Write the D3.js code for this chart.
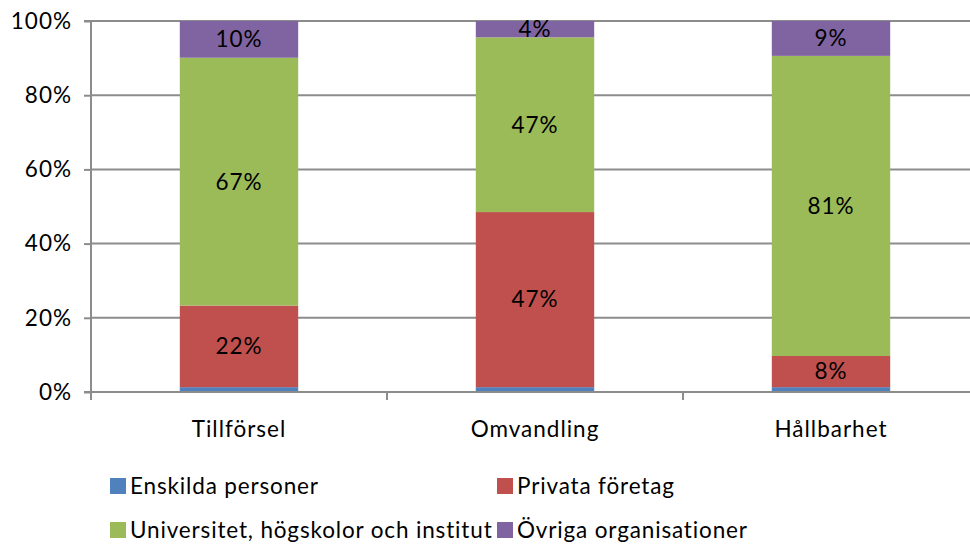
<!DOCTYPE html>
<html><head><meta charset="utf-8">
<script src="https://cdn.jsdelivr.net/npm/d3@7"></script>
<style>body{margin:0;background:#fff}svg{display:block}</style>
</head><body>
<svg id="c" width="970" height="544"></svg>
<script>
const categories = ["Tillförsel", "Omvandling", "Hållbarhet"];
const seriesNames = ["Enskilda personer", "Privata företag", "Universitet, högskolor och institut", "Övriga organisationer"];
const enskilda = [1.3, 1.3, 1.3];
const privata = [22.0, 47.2, 8.4];
const universitet = [66.8, 47.1, 80.9];
const ovriga = [9.9, 4.4, 9.4];
const colors = ["#4F81BD", "#C0504D", "#9BBB59", "#8064A2"];
const yTicks = [0, 20, 40, 60, 80, 100];
const labelShown = [false, true, true, true];

const svg = d3.select("#c");
const font = "Lato, 'Open Sans', sans-serif";
const fs = 22.5;
const ls = "1px";
const x0 = 91, x1 = 979, yTop = 21, yBot = 392;
const x = d3.scaleBand().domain(categories).range([x0, x1]).paddingInner(0.6).paddingOuter(0.3);
const y = d3.scaleLinear().domain([0, 100]).range([yBot, yTop]);

const rows = categories.map((c, i) => ({cat: c, s0: enskilda[i], s1: privata[i], s2: universitet[i], s3: ovriga[i]}));
const stack = d3.stack().keys(["s0", "s1", "s2", "s3"])(rows);

// gridlines
svg.append("g").selectAll("line").data(yTicks.filter(d => d > 0)).join("line")
  .attr("x1", x0).attr("x2", 970).attr("y1", d => y(d)).attr("y2", d => y(d))
  .attr("stroke", "#8c8c8c").attr("stroke-width", 2);

// bars
stack.forEach((layer, si) => {
  svg.append("g").selectAll("rect").data(layer).join("rect")
    .attr("x", d => x(d.data.cat)).attr("width", x.bandwidth())
    .attr("y", d => y(d[1])).attr("height", d => y(d[0]) - y(d[1]))
    .attr("fill", colors[si]);
});

// y axis
const yAxis = d3.axisLeft(y).tickValues(yTicks).tickFormat(d => d + "%").tickSize(7).tickPadding(12);
const ga = svg.append("g").attr("transform", `translate(${x0},0)`).call(yAxis);
ga.select(".domain").attr("stroke", "#8c8c8c").attr("stroke-width", 2).attr("d", `M-7,${yTop}H0V${yBot + 8}`);
ga.selectAll(".tick line").attr("stroke", "#8c8c8c").attr("stroke-width", 2);
ga.selectAll("text").attr("font-family", font).attr("font-size", fs).attr("letter-spacing", ls).attr("fill", "#000");

// x axis
const xAxis = d3.axisBottom(x).tickSize(0).tickPadding(29);
const gx = svg.append("g").attr("transform", `translate(0,${yBot})`).call(xAxis);
gx.select(".domain").attr("stroke", "#8c8c8c").attr("stroke-width", 2).attr("d", `M${x0 - 7},0H970`);
gx.selectAll("text").attr("font-family", font).attr("font-size", fs).attr("letter-spacing", ls).attr("fill", "#000");
const step = x.step();
const bnd = [0, 1, 2].map(i => x0 + i * step);
gx.append("g").selectAll("line").data(bnd).join("line")
  .attr("x1", d => d).attr("x2", d => d).attr("y1", 0).attr("y2", 8)
  .attr("stroke", "#8c8c8c").attr("stroke-width", 2);

// labels
stack.forEach((layer, si) => {
  if (!labelShown[si]) return;
  svg.append("g").selectAll("text").data(layer).join("text")
    .attr("x", d => x(d.data.cat) + x.bandwidth() / 2)
    .attr("y", d => (y(d[0]) + y(d[1])) / 2)
    .attr("dy", "0.35em").attr("text-anchor", "middle")
    .attr("font-family", font).attr("font-size", fs).attr("letter-spacing", ls).attr("fill", "#000")
    .text(d => Math.round(d[1] - d[0]) + "%");
});

// legend
const legPos = [[110, 486], [497, 486], [110, 530], [497, 530]];
const lg = svg.append("g").selectAll("g").data(seriesNames).join("g")
  .attr("transform", (d, i) => `translate(${legPos[i][0]},${legPos[i][1]})`);
lg.append("rect").attr("x", 0).attr("y", -8).attr("width", 16).attr("height", 16).attr("fill", (d, i) => colors[i]);
lg.append("text").attr("x", 20).attr("dy", "0.35em").attr("font-family", font).attr("font-size", fs).attr("letter-spacing", "0.85px").attr("fill", "#000").text(d => d);
</script>
</body></html>
